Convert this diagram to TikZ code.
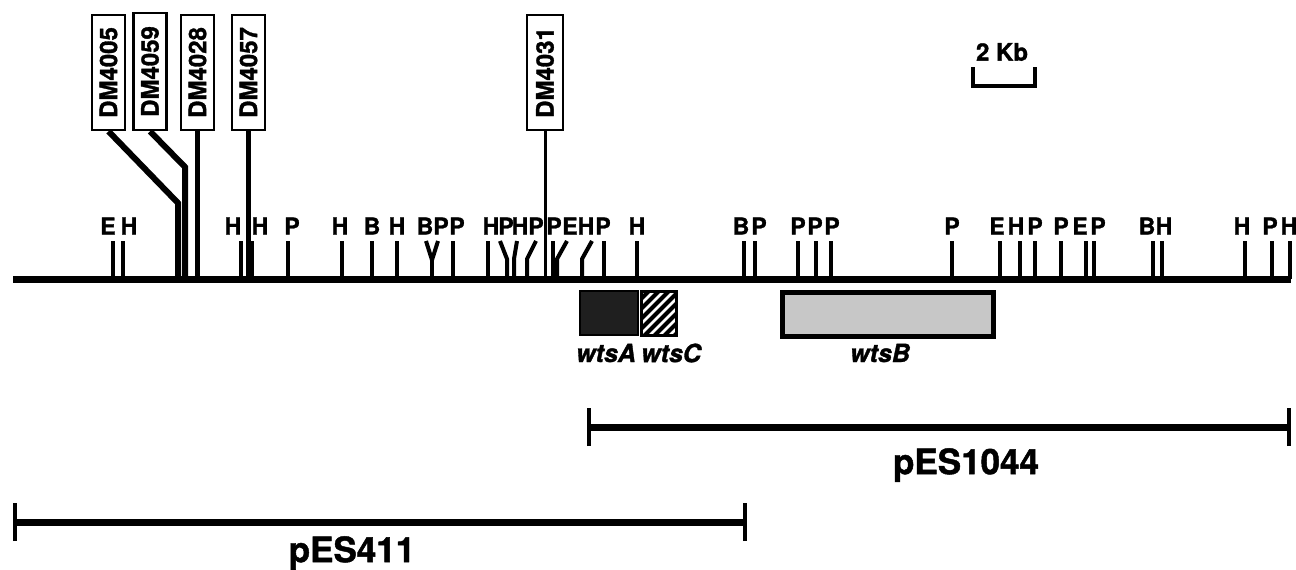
\documentclass[tikz,border=0pt]{standalone}
\usepackage{fontspec}
\setmainfont{TeX Gyre Heros}[BoldFeatures={FakeBold=1.3},BoldItalicFeatures={FakeBold=1.3}]
\tikzset{
  site/.style={line width=4pt},
  rlab/.style={font=\bfseries\fontsize{23}{23}\selectfont, inner sep=0pt},
  dmbox/.style={draw, line width=2.6pt, rotate=90, minimum width=115pt, minimum height=33pt, inner sep=0pt, font=\bfseries\fontsize{24}{24}\selectfont},
  mainline/.style={line width=7pt},
  plasmid/.style={line width=7pt},
  endtick/.style={line width=4pt},
  wtslab/.style={font=\bfseries\itshape\fontsize{25}{25}\selectfont, inner sep=0pt},
  plab/.style={font=\bfseries\fontsize{35}{35}\selectfont, inner sep=0pt},
}
\newcommand{\rs}[3]{%
  \node[rlab] (s#1) at (#2,226) {#3};
  \draw[site] (#1,241) -- (#1,279);}
\newcommand{\rb}[4]{%
  \node[rlab] (s#2) at (#3,226) {#4};
  \draw[site] (#1,241) -- (#2,259) -- (#2,279);}
\begin{document}
\begin{tikzpicture}[x=1pt,y=-1pt]
\useasboundingbox (0,0) rectangle (1296,570);
% main line
\coordinate (mL) at (13,279);
\coordinate (mR) at (1291,279);
\draw[mainline] (mL) -- (mR);
% restriction sites left part
\rs{113}{108}{E}
\rs{123}{129}{H}
\rs{241}{233}{H}
\rs{252}{260}{H}
\rs{288}{292}{P}
\rs{342}{340}{H}
\rs{372}{372}{B}
\rs{397}{397}{H}
\node[rlab] (sB425) at (425,226) {B};
\node[rlab] (sP441) at (441,226) {P};
\draw[site] (426,241) -- (432,260) -- (438,241);
\draw[site] (432,258) -- (432,279);
\rs{453}{457}{P}
\rs{488}{491}{H}
\rb{500}{507}{506}{P}
\rb{517}{514}{520}{H}
\rb{536}{527}{536}{P}
\rs{553}{554}{P}
\rb{567}{557}{570}{E}
\rb{592}{582}{586}{H}
\rs{604}{603}{P}
\rs{637}{637}{H}
% right part
\rs{744}{741}{B}
\rs{755}{759}{P}
\rs{798}{798}{P}
\rs{816}{815}{P}
\rs{831}{832}{P}
\rs{952}{952}{P}
\rs{1000}{997}{E}
\rs{1020}{1016}{H}
\rs{1035}{1035}{P}
\rs{1061}{1061}{P}
\rs{1086}{1080}{E}
\rs{1094}{1098}{P}
\rs{1153}{1147}{B}
\rs{1162}{1164}{H}
\rs{1245}{1242}{H}
\rs{1272}{1270}{P}
\rs{1290}{1289}{H}
% DM boxes
\node[dmbox] (d4005) at (108.5,72.5) {DM4005};
\node[dmbox, minimum width=117pt] (d4059) at (150,71.5) {DM4059};
\node[dmbox] (d4028) at (197.5,72.5) {DM4028};
\node[dmbox] (d4057) at (248.5,72.5) {DM4057};
\node[dmbox, minimum height=36pt] (d4031) at (545,72.5) {DM4031};
\coordinate (k4005) at (178,203);
\coordinate (k4059) at (185,167);
\draw[line width=6pt] (d4005.west) -- (k4005) -- (178,279);
\draw[line width=6pt] (d4059.west) -- (k4059) -- (185,279);
\draw[line width=4.5pt] (d4028.west) -- (d4028.west |- mL);
\draw[line width=4.5pt] (d4057.west) -- (d4057.west |- mL);
\draw[line width=3pt] (d4031.west) -- (d4031.west |- mL);
% genes
\fill[black!88] (580,291) rectangle (638,335);
\draw[line width=2pt] (580,291) rectangle (638,335);
\begin{scope}
\clip (641,291) rectangle (676,335);
\foreach \k in {-48,-38,...,40} \draw[line width=4pt] (641+\k,337) -- (641+\k+48,289);
\end{scope}
\draw[line width=3pt] (641,291) rectangle (676,335);
\draw[line width=5pt, fill=black!22] (782,292) rectangle (993,336);
\node[wtslab] (la) at (606,353) {wtsA};
\node[wtslab] (lc) at (671,353) {wtsC};
\node[wtslab] (lb) at (880,353) {wtsB};
% scale bar
\node[font=\bfseries\fontsize{24}{24}\selectfont, inner sep=0pt] (kb) at (1002,52) {2 Kb};
\draw[line width=4pt] (973,67) -- (973,86) -- (1035,86) -- (1035,67);
% plasmids
\coordinate (p1L) at (589,427);
\coordinate (p1R) at (1289,427);
\draw[plasmid] (p1L) -- (p1R);
\draw[endtick] ([yshift=-19pt]p1L) -- ([yshift=19pt]p1L);
\draw[endtick] ([yshift=-19pt]p1R) -- ([yshift=19pt]p1R);
\node[plab] (n1044) at (966,465) {pES1044};
\coordinate (p2L) at (15,522);
\coordinate (p2R) at (745,522);
\draw[plasmid] (p2L) -- (p2R);
\draw[endtick] ([yshift=-19pt]p2L) -- ([yshift=19pt]p2L);
\draw[endtick] ([yshift=-19pt]p2R) -- ([yshift=19pt]p2R);
\node[plab] (n411) at (352,553) {pES411};
\end{tikzpicture}
\end{document}
